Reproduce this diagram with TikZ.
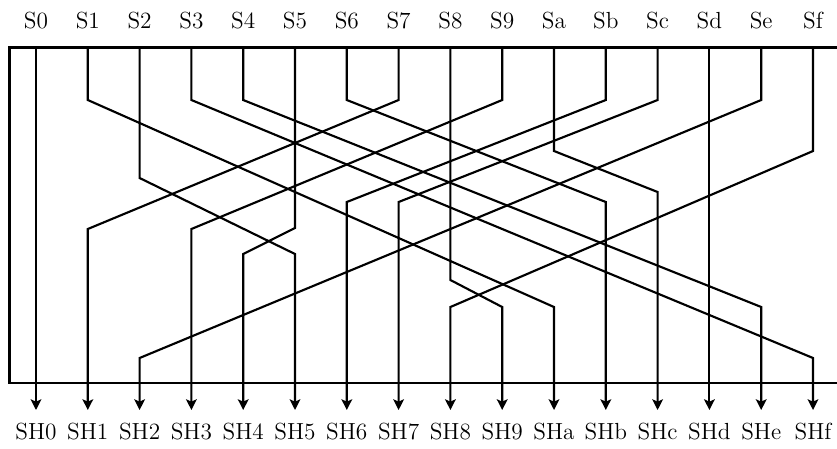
\documentclass[tikz,border=0pt]{standalone}
\usetikzlibrary{arrows.meta}
\begin{document}
\begin{tikzpicture}[x=0.515pt,y=-0.515pt,
  frame/.style={line width=1.1pt},
  wire/.style={line width=1.1pt,-{Stealth[length=5.5pt,width=5.5pt,inset=1.2pt]}},
  lbl/.style={inner sep=0pt,font=\fontsize{12}{14}\selectfont}]
\useasboundingbox (0,0) rectangle (837,448);
\clip (0,0) rectangle (837,448);
\foreach \i/\h in {0/0,1/1,2/2,3/3,4/4,5/5,6/6,7/7,8/8,9/9,10/a,11/b,12/c,13/d,14/e,15/f}{
  \pgfmathsetmacro{\xx}{36+51.8*\i}
  \node[lbl] (s\i) at (\xx,21) {S\h};
  \node[lbl] (sh\i) at (\xx,431.5) {SH\h};
  \coordinate (t\i) at (\xx,47.5);
  \coordinate (a\i) at (\xx,410);
}
\draw[frame] (9.5,47.5) rectangle (850,383);
\draw[wire] (t0) -- (a0);
\draw[wire] (t13) -- (a13);
\foreach \i/\j/\ya/\yb in {1/10/100/307, 2/5/178/254, 3/15/100/358, 4/14/100/307,
  5/4/228/254, 6/11/100/202, 7/1/100/229, 8/9/280/307, 9/3/100/229,
  10/12/151/192, 11/6/100/202, 12/7/100/202, 14/2/100/358, 15/8/151/307}{
  \pgfmathsetmacro{\xa}{36+51.8*\i}
  \pgfmathsetmacro{\xb}{36+51.8*\j}
  \draw[wire] (t\i) -- (\xa,\ya) -- (\xb,\yb) -- (a\j);
}
\end{tikzpicture}
\end{document}
